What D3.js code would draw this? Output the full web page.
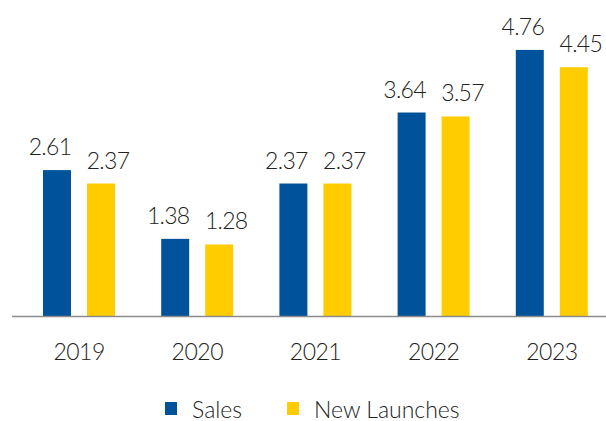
<!DOCTYPE html>
<html>
<head>
<meta charset="utf-8">
<script src="https://cdn.jsdelivr.net/npm/d3@7"></script>
<style>
  body { margin: 0; background: #fff; }
  text { font-family: Lato, "Open Sans", sans-serif; fill: #222; }
</style>
</head>
<body>
<script>
// chart data
const years = ["2019", "2020", "2021", "2022", "2023"];
const seriesNames = ["Sales", "New Launches"];
const sales = [2.61, 1.38, 2.37, 3.64, 4.76];
const newLaunches = [2.37, 1.28, 2.37, 3.57, 4.45];
const colors = ["#00529b", "#ffcc00"];

const width = 606, height = 421;
const baseline = 316;

const svg = d3.select("body").append("svg")
    .attr("width", width)
    .attr("height", height);

// scales
const x0 = d3.scaleBand().domain(years).range([20, 611]);
const x1 = d3.scaleBand().domain(seriesNames).range([23, 95]).paddingInner(0.364);
const y = d3.scaleLinear().domain([0, 5]).range([baseline, 36.5]);
const color = d3.scaleOrdinal().domain(seriesNames).range(colors);
// labels sit a little outward from each pair of bars
const labelShift = { "Sales": -7, "New Launches": 7 };

const rows = years.map(function(yr, i) {
    return { year: yr, values: [
        { name: "Sales", value: sales[i] },
        { name: "New Launches", value: newLaunches[i] }
    ] };
});

const groups = svg.selectAll("g.year")
    .data(rows)
    .enter().append("g")
    .attr("class", "year")
    .attr("transform", function(d) { return "translate(" + x0(d.year) + ",0)"; });

groups.selectAll("rect")
    .data(function(d) { return d.values; })
    .enter().append("rect")
    .attr("x", function(d) { return x1(d.name); })
    .attr("y", function(d) { return y(d.value); })
    .attr("width", x1.bandwidth())
    .attr("height", function(d) { return baseline - y(d.value); })
    .style("fill", function(d) { return color(d.name); });

// value labels
groups.selectAll("text.val")
    .data(function(d) { return d.values; })
    .enter().append("text")
    .attr("class", "val")
    .attr("x", function(d) { return x1(d.name) + x1.bandwidth() / 2 + labelShift[d.name]; })
    .attr("y", function(d) { return y(d.value) - 15; })
    .attr("text-anchor", "middle")
    .style("font-size", "23px")
    .style("font-weight", 300)
    .style("letter-spacing", "-0.7px")
    .text(function(d) { return d.value.toFixed(2); });

// baseline
svg.append("line")
    .attr("x1", 12).attr("x2", width)
    .attr("y1", baseline + 0.5).attr("y2", baseline + 0.5)
    .style("stroke", "#8c8c8c")
    .style("stroke-width", 1.5);

// year labels
svg.selectAll("text.yr")
    .data(years)
    .enter().append("text")
    .attr("class", "yr")
    .attr("x", function(d) { return x0(d) + x0.bandwidth() / 2; })
    .attr("y", 360)
    .attr("text-anchor", "middle")
    .style("font-size", "23px")
    .style("font-weight", 300)
    .style("letter-spacing", "-0.5px")
    .text(function(d) { return d; });

// legend
const legendX = [165, 287];
const legend = svg.selectAll("g.legend")
    .data(seriesNames)
    .enter().append("g")
    .attr("class", "legend")
    .attr("transform", function(d, i) { return "translate(" + legendX[i] + ",402)"; });

legend.append("rect")
    .attr("width", 12).attr("height", 13)
    .style("fill", function(d) { return color(d); });

legend.append("text")
    .attr("x", 27)
    .attr("y", 16)
    .style("font-size", "23px")
    .style("font-weight", 300)
    .text(function(d) { return d; });
</script>
</body>
</html>
